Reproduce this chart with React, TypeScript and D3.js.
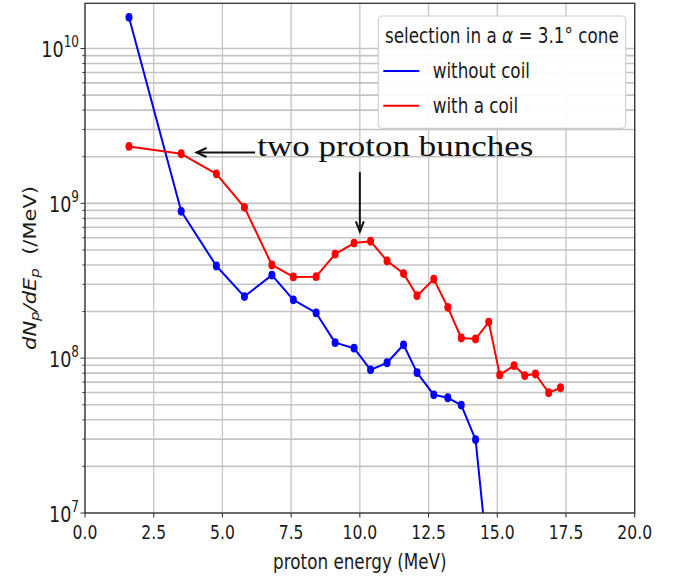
import React from "react";
import * as d3 from "d3";

// ---- data ----
const energyMeV = [1.6, 3.5, 4.78, 5.8, 6.8, 7.58, 8.41, 9.1, 9.79, 10.39, 10.99, 11.59, 12.08, 12.69, 13.2, 13.69, 14.21, 14.69, 15.09, 15.61, 16.0, 16.39, 16.87, 17.3];
const withoutCoil = [1.59e10, 8.88e8, 3.94e8, 2.5e8, 3.44e8, 2.38e8, 1.96e8, 1.26e8, 1.16e8, 8.41e7, 9.34e7, 1.22e8, 8.07e7, 5.8e7, 5.55e7, 4.98e7, 2.98e7, 4.35e6];
const withCoil = [2.33e9, 2.09e9, 1.55e9, 9.42e8, 4.0e8, 3.35e8, 3.36e8, 4.7e8, 5.54e8, 5.69e8, 4.25e8, 3.52e8, 2.53e8, 3.24e8, 2.13e8, 1.35e8, 1.33e8, 1.71e8, 7.8e7, 8.96e7, 7.72e7, 7.9e7, 5.98e7, 6.44e7];
const xTicks = [0, 2.5, 5, 7.5, 10, 12.5, 15, 17.5, 20];
const xTickLabels = ["0.0", "2.5", "5.0", "7.5", "10.0", "12.5", "15.0", "17.5", "20.0"];
const yMajor = [1e7, 1e8, 1e9, 1e10];
const yExponents = ["7", "8", "9", "10"];
const legendTitle = "selection in a ";
const legendLabels = ["without coil", "with a coil"];
const seriesColors = ["#0000ff", "#ff0000"];
const annotationText = "two proton bunches";
// annotation anchors in data coordinates
const hArrow = { x1: 6.19, x2: 4.06, y: 2.13e9 };
const vArrow = { x: 10.0, y1: 1.59e9, y2: 6.58e8 };
const annotationPos = { x: 6.27, y: 2.02e9 };

const W = 683, H = 580;
const L = 85, R = 634.7, T = 3.3, B = 513;
const SX = 0.8;
const FONT = "DejaVu Sans";

const x = d3.scaleLinear().domain([0, 20]).range([L, R]);
const yTopVal = Math.pow(10, 10 + (48.5 - T) / 154.8);
const y = d3.scaleLog().domain([1e7, yTopVal]).range([B, T]);

function minorTicks(): number[] {
  const out: number[] = [];
  for (let e = 7; e <= 10; e++) {
    for (let m = 1; m <= 9; m++) {
      const v = m * Math.pow(10, e);
      if (v <= yTopVal * 1.0001) out.push(v);
    }
  }
  return out;
}

function CText(props: any) {
  const { x: px, y: py, anchor = "start", size = 19, children, style, rotate } = props;
  const tr = `translate(${px},${py}) scale(${SX},1)` + (rotate ? ` rotate(${rotate})` : "");
  return (
    <text transform={tr} textAnchor={anchor} fontSize={size} fontFamily={FONT} fill="#1a1a1a" style={style}>
      {children}
    </text>
  );
}

export default function App() {
  const line = d3.line<[number, number]>().x((d) => x(d[0])).y((d) => y(d[1]));
  const blue: [number, number][] = withoutCoil.map((v, i) => [energyMeV[i], v]);
  const red: [number, number][] = withCoil.map((v, i) => [energyMeV[i], v]);
  const series = [blue, red];
  const grid = minorTicks();

  return (
    <svg width={W} height={H} style={{ position: "absolute", left: 0, top: 0, background: "#fff" }}>
      <defs>
        <clipPath id="plotclip">
          <rect x={L} y={T} width={R - L} height={B - T} />
        </clipPath>
      </defs>
      <rect x={0} y={0} width={W} height={H} fill="#fff" />
      {/* grid */}
      {grid.map((v, i) => (
        <line key={"h" + i} x1={L} x2={R} y1={y(v)} y2={y(v)} stroke="#c4c4c4" strokeWidth={1.6} />
      ))}
      {xTicks.map((t, i) => (
        <line key={"v" + i} x1={x(t)} x2={x(t)} y1={T} y2={B} stroke="#c4c4c4" strokeWidth={1.3} />
      ))}
      {/* series */}
      <g clipPath="url(#plotclip)">
        {series.map((s, si) => (
          <g key={si}>
            <path d={line(s) || ""} fill="none" stroke={seriesColors[si]} strokeWidth={2} strokeLinejoin="round" />
            {s.map((d, i) => (
              <ellipse key={i} cx={x(d[0])} cy={y(d[1])} rx={3.5} ry={4.4} fill={seriesColors[si]} />
            ))}
          </g>
        ))}
      </g>
      {/* spines */}
      <rect x={L} y={T} width={R - L} height={B - T} fill="none" stroke="#333" strokeWidth={1.3} />
      {/* x ticks */}
      {xTicks.map((t, i) => (
        <g key={"xt" + i}>
          <line x1={x(t)} x2={x(t)} y1={B} y2={B + 4.5} stroke="#333" strokeWidth={1.1} />
          <CText x={x(t)} y={539.3} anchor="middle" size={19.5}>{xTickLabels[i]}</CText>
        </g>
      ))}
      {/* y ticks */}
      {grid.map((v, i) => {
        const major = yMajor.indexOf(v) >= 0;
        return <line key={"ytm" + i} x1={L - (major ? 4.5 : 2.5)} x2={L} y1={y(v)} y2={y(v)} stroke="#333" strokeWidth={1} />;
      })}
      {yMajor.map((v, i) => (
        <CText key={"yl" + i} x={79} y={y(v) + 8.8} anchor="end" size={22}>
          10<tspan fontSize={15} dy={-10}>{yExponents[i]}</tspan>
        </CText>
      ))}
      {/* axis labels */}
      <CText x={(L + R) / 2} y={569} anchor="middle" size={21}>proton energy (MeV)</CText>
      <CText x={36} y={268} anchor="middle" size={21} rotate={-90}>
        <tspan fontStyle="italic">dN</tspan>
        <tspan fontStyle="italic" fontSize={15} dy={4}>p</tspan>
        <tspan fontStyle="italic" dy={-4}>/dE</tspan>
        <tspan fontStyle="italic" fontSize={15} dy={4}>p</tspan>
        <tspan dy={-4}>{"\u00a0 (/MeV)"}</tspan>
      </CText>
      {/* legend */}
      <rect x={378.3} y={16} width={247.4} height={112.3} rx={4} fill="#fff" fillOpacity={0.92} stroke="#d0d0d0" strokeWidth={1.2} />
      <CText x={385} y={43.3} size={21}>
        {legendTitle}
        <tspan fontStyle="italic">α</tspan>
        {" = 3.1° cone"}
      </CText>
      {legendLabels.map((lab, i) => {
        const ly = [71, 105.7][i];
        return (
          <g key={"lg" + i}>
            <line x1={383.3} x2={419.3} y1={ly} y2={ly} stroke={seriesColors[i]} strokeWidth={2} />
            <CText x={432.7} y={ly + 7.3} size={21}>{lab}</CText>
          </g>
        );
      })}
      {/* annotations */}
      <text x={x(annotationPos.x)} y={y(annotationPos.y)} fontFamily="Liberation Serif" fontSize={30} textLength={276} lengthAdjust="spacingAndGlyphs" fill="#111">
        {annotationText}
      </text>
      <g stroke="#111" strokeWidth={2} fill="none">
        <line x1={x(hArrow.x1)} x2={x(hArrow.x2)} y1={y(hArrow.y)} y2={y(hArrow.y)} />
        <polyline points={`${x(hArrow.x2) + 10},${y(hArrow.y) - 4.5} ${x(hArrow.x2)},${y(hArrow.y)} ${x(hArrow.x2) + 10},${y(hArrow.y) + 4.5}`} />
        <line x1={x(vArrow.x)} x2={x(vArrow.x)} y1={y(vArrow.y1)} y2={y(vArrow.y2)} />
        <polyline points={`${x(vArrow.x) - 4},${y(vArrow.y2) - 10} ${x(vArrow.x)},${y(vArrow.y2)} ${x(vArrow.x) + 4},${y(vArrow.y2) - 10}`} />
      </g>
    </svg>
  );
}
